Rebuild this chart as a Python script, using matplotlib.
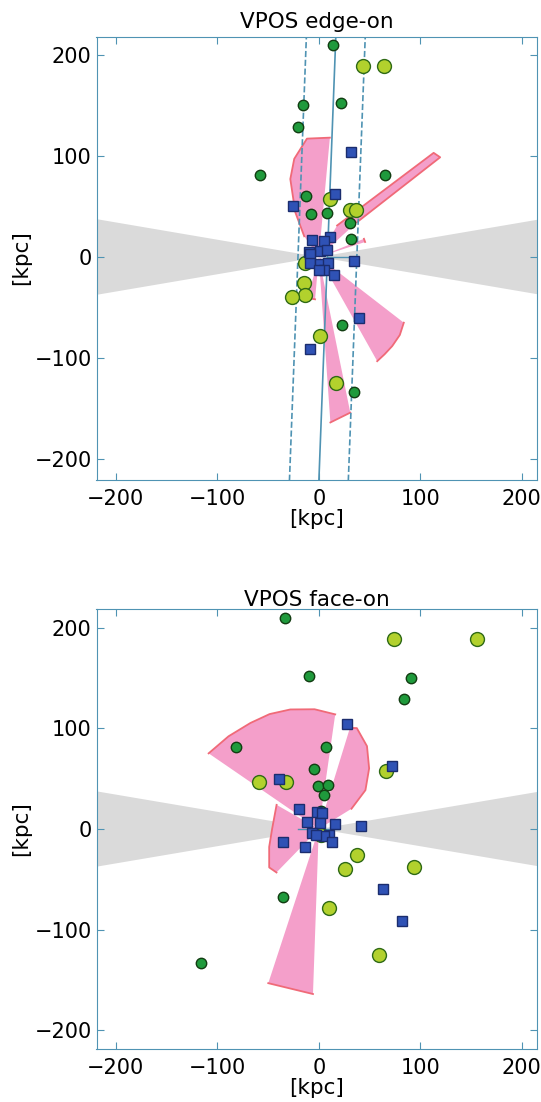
import numpy as np
import matplotlib
matplotlib.use('Agg')
import matplotlib.pyplot as plt

# y position (kpc) is shared by both views, x differs (edge-on / face-on)
sat_y = [210, 152, 150, 129, 81.5, 81.5, 60, 42.5, 43.5, 34, 18, -67.5, -133]
sat_x_edge = [13.6, 22, -16, -20, -57.6, 65, -12.6, -7.4, 8.4, 30.7, 32, 23, 35]
sat_x_face = [-33, -10, 91, 83.6, -81.6, 6.7, -4.4, -1.2, 8.7, 4.7, 2, -35.7, -116]

faint_y = [189, 189, 57.5, 46.5, 46.5, -5.5, -26, -38, -40, -78, -125]
faint_x_edge = [43.5, 64.5, 10.6, 31, 36.6, -13.3, -15, -14, -26.8, 1.5, 17.2]
faint_x_face = [73.7, 155.9, 65.8, -59.3, -32, 2, 37.6, 93.4, 26, 10.3, 59.6]

gc_y = [104, 62.5, 50, -60, -91, 19.8, 16.8, 16, 5, 6, 7, 3, -4.3, -6, -7, -6, -12.6, -17.5, -13]
gc_x_edge = [31.7, 15.6, -25.4, 39.6, -9, 11.3, -6.4, 4.7, -10, 1.5, 8.5, -8.4, 34.3, -8.4, 1.5, 8.7, 4.7, 14.6, 0]
gc_x_face = [27.8, 72, -39, 62.9, 82, -19, -1.8, 3, 16.3, 1.5, -11.6, 41.6, -6.7, 9.7, 5, -3, 13, -14, -35.3]

# uncertainty cones: outline as (angle deg, radius kpc), apex at origin
cones_edge = [
    ([84.7, 95.7, 104, 110, 117.6, 125], [118.5, 117.6, 100, 82, 50, 25]),
    ([42.4, 39.5, 42.3, 59.9], [51, 155, 153, 36]),
    ([18, 22], [48, 48]),
    ([-37.8, -44, -50.6, -56, -60.8], [106, 111, 114, 116, 118]),
    ([-78.6, -86], [157, 164]),
    ([-95, -105], [42, 42]),
]
cones_face = [
    ([81.9, 92, 103.3, 113, 122.6, 134, 145.3], [115, 119, 122, 124, 125, 128, 132]),
    ([73, 69.5, 60, 50.5, 40, 32], [105, 107, 95, 78, 60, 38]),
    ([-108, -92], [161, 164]),
    ([150, 180, 200, 218, 226], [48, 46, 52, 62, 60]),
]

# plane fit (edge-on): x = offset + slope*y, rms width
plane_offset = 8.5
plane_slope = 0.038
plane_rms = 29
zoa_angle = 9.7

line_col = '#4f93b3'
pink = '#f49fca'
red = '#f06a78'


def panel(ax, xs_sat, xs_faint, xs_gc, cones, title, ylim, tpad):
    k = np.tan(np.radians(zoa_angle))
    xx = np.array([-300, 0, 300])
    ax.fill_between(xx, -k * np.abs(xx), k * np.abs(xx), color='#dadada', lw=0, zorder=1)

    for ang, rad in cones:
        ang = np.radians(ang)
        px = np.array(rad) * np.cos(ang)
        py = np.array(rad) * np.sin(ang)
        ax.fill(np.r_[0, px], np.r_[0, py], color=pink, lw=0, zorder=2)
        ax.plot(px, py, color=red, lw=1.3, zorder=2.5)

    ax.plot(xs_sat, sat_y, 'o', ms=7.5, mfc='#1f9a3c', mec='#123d12', mew=1, zorder=5)
    ax.plot(xs_faint, faint_y, 'o', ms=10, mfc='#b2d12d', mec='#2f6a16', mew=1, zorder=5)
    ax.plot(xs_gc, gc_y, 's', ms=7, mfc='#2f52b5', mec='#1b2d6e', mew=1, zorder=6)

    ax.set_xlim(-219, 215)
    ax.set_ylim(*ylim)
    ax.set_xticks([-200, -100, 0, 100, 200])
    ax.set_yticks([-200, -100, 0, 100, 200])
    ax.tick_params(direction='in', length=5, color=line_col, top=True, right=True, labelsize=15)
    ax.tick_params(axis='x', pad=7)
    for s in ax.spines.values():
        s.set_color(line_col)
    ax.set_title(title, fontsize=15.5, pad=tpad)
    ax.set_xlabel('[kpc]', fontsize=15.5, labelpad=0)
    ax.set_ylabel('[kpc]', fontsize=15.5, labelpad=2)


fig = plt.figure(figsize=(5.41, 11.02), dpi=100)
ax1 = fig.add_axes([96.5 / 541, 1 - 479.5 / 1102, 440.5 / 541, 443 / 1102])
ax2 = fig.add_axes([96.5 / 541, 1 - 1048.5 / 1102, 440.5 / 541, 440 / 1102])

panel(ax1, sat_x_edge, faint_x_edge, gc_x_edge, cones_edge, 'VPOS edge-on', (-220, 218), 6)
yy = np.array([-230, 230])
ax1.plot(plane_offset + plane_slope * yy, yy, color=line_col, lw=1.2, zorder=3)
for sgn in (-1, 1):
    ax1.plot(plane_offset + sgn * plane_rms + plane_slope * yy, yy, '--', color=line_col, lw=1.2, zorder=3)
ax1.plot([8, 31], [0, 0], color=line_col, lw=1, zorder=3)

panel(ax2, sat_x_face, faint_x_face, gc_x_face, cones_face, 'VPOS face-on', (-218, 219), 2)
ax2.plot([-20, 20], [0, 0], color=line_col, lw=1, zorder=3)

fig.savefig('out.png', dpi=100)
